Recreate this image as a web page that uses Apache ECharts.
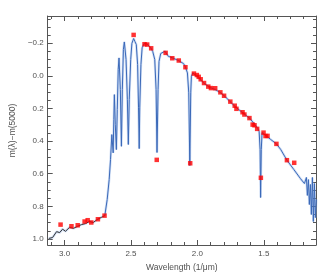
<!DOCTYPE html>
<html>
<head>
<meta charset="utf-8">
<script src="https://cdn.jsdelivr.net/npm/echarts@6/dist/echarts.min.js"></script>
<style>html,body{margin:0;padding:0;background:#fff}#c{width:329px;height:279px}</style>
</head>
<body>
<div id="c"></div>
<script>
// UV part of the spectrum (model, black line) : [wavenumber 1/um, mag]
var uvSpectrum = [
  [3.119,0.997],[3.090,0.991],[3.060,0.955],[3.037,0.961],[3.015,0.940],[2.993,0.953],
  [2.963,0.929],[2.933,0.935],[2.903,0.923],[2.873,0.912],[2.843,0.906],[2.813,0.893],
  [2.784,0.899],[2.754,0.881],[2.724,0.868],[2.697,0.857]
];
// optical / near-IR spectrum (blue line)
var optSpectrum = [
  [2.697,0.857],[2.679,0.758],[2.664,0.635],[2.654,0.513],[2.644,0.360],
  [2.634,0.472],[2.629,0.267],[2.625,0.115],
  [2.618,0.300],[2.610,0.452],[2.603,0.206],[2.596,-0.040],[2.590,-0.110],
  [2.580,0.084],[2.572,0.432],[2.565,0.084],[2.557,-0.162],[2.550,-0.208],
  [2.537,-0.100],[2.527,0.146],[2.520,0.421],[2.513,0.146],[2.502,-0.100],[2.493,-0.199],
  [2.480,-0.229],[2.470,-0.210],[2.460,-0.192],[2.450,-0.069],[2.443,0.196],[2.438,0.446],
  [2.434,0.196],[2.425,-0.069],[2.416,-0.172],[2.401,-0.198],[2.381,-0.196],[2.351,-0.172],
  [2.336,-0.149],[2.321,-0.100],[2.311,0.084],[2.304,0.470],[2.296,0.084],[2.289,-0.088],
  [2.276,-0.137],[2.261,-0.149],[2.244,-0.151],[2.219,-0.120],[2.187,-0.110],[2.142,-0.094],
  [2.104,-0.075],[2.090,-0.055],[2.075,-0.018],[2.065,0.104],[2.057,0.550],[2.050,0.104],
  [2.045,0.002],[2.035,-0.018],[1.993,0.010],[1.948,0.047],[1.903,0.072],[1.866,0.084],
  [1.828,0.102],[1.791,0.127],[1.754,0.158],[1.716,0.188],[1.679,0.213],[1.642,0.237],
  [1.604,0.262],[1.567,0.299],[1.545,0.323],[1.535,0.341],[1.528,0.452],[1.524,0.746],
  [1.519,0.452],[1.513,0.348],[1.500,0.354],[1.448,0.390],[1.405,0.417],[1.373,0.451],
  [1.326,0.517],[1.274,0.574],[1.224,0.630],[1.194,0.660],[1.187,0.672],[1.179,0.623],
  [1.172,0.733],[1.164,0.636],[1.157,0.789],[1.149,0.666],[1.142,0.850],[1.134,0.623],
  [1.127,0.893],[1.119,0.660],[1.112,0.869],[1.105,0.758]
];
// photometric points (red squares)
var pointX = [3.030,2.948,2.901,2.849,2.826,2.799,2.749,2.699,2.480,2.398,2.378,2.348,2.306,
  2.239,2.189,2.140,2.090,2.054,2.026,2.004,1.990,1.975,1.950,1.918,1.898,1.866,1.827,1.799,
  1.752,1.719,1.706,1.660,1.646,1.608,1.584,1.570,1.550,1.522,1.502,1.487,1.472,1.405,1.326,1.271];
var pointY = [0.912,0.922,0.916,0.893,0.885,0.899,0.879,0.857,-0.251,-0.194,-0.192,-0.169,0.515,
  -0.141,-0.108,-0.094,-0.053,0.536,-0.014,-0.005,0.006,0.021,0.044,0.066,0.075,0.076,0.101,0.122,
  0.158,0.183,0.202,0.223,0.237,0.259,0.299,0.303,0.325,0.625,0.348,0.369,0.368,0.417,0.517,0.533];

var xMajor = [1.5,2.0,2.5,3.0];
var xMinor = [1.2,1.3,1.4,1.6,1.7,1.8,1.9,2.1,2.2,2.3,2.4,2.6,2.7,2.8,2.9,3.1];
var yMajor = [-0.2,0.0,0.2,0.4,0.6,0.8,1.0];
var yMinor = [-0.35,-0.3,-0.25,-0.15,-0.1,-0.05,0.05,0.1,0.15,0.25,0.3,0.35,0.45,0.5,0.55,
  0.65,0.7,0.75,0.85,0.9,0.95];

var X_MIN = 1.107, X_MAX = 3.127, Y_MIN = -0.367, Y_MAX = 1.037;
var AX = '#555';
var FONT = 'Liberation Sans';

function xAx(pos, ticks, len, label, line) {
  var a = {
    type:'value', min:X_MIN, max:X_MAX, inverse:true, position:pos,
    axisLine:{show:line, onZero:false, lineStyle:{color:AX,width:1}},
    axisTick:{show:true, inside:true, length:len, customValues:ticks, lineStyle:{color:AX,width:1}},
    axisLabel:{show:label, customValues:ticks, margin:5, color:'#505050', fontSize:8, fontFamily:FONT,
      formatter:function(v){return v.toFixed(1);}},
    splitLine:{show:false}
  };
  if (label) {
    a.name = 'Wavelength (1/\u03bcm)'; a.nameLocation = 'middle'; a.nameGap = 18;
    a.nameTextStyle = {color:'#505050', fontSize:8.5, fontFamily:FONT};
  }
  return a;
}
function yAx(pos, ticks, len, label, line) {
  var a = {
    type:'value', min:Y_MIN, max:Y_MAX, inverse:true, position:pos,
    axisLine:{show:line, onZero:false, lineStyle:{color:AX,width:1}},
    axisTick:{show:true, inside:true, length:len, customValues:ticks, lineStyle:{color:AX,width:1}},
    axisLabel:{show:label, customValues:ticks, margin:4, color:'#505050', fontSize:8, fontFamily:FONT,
      formatter:function(v){return v.toFixed(1).replace('-','\u2212');}},
    splitLine:{show:false}
  };
  if (label) {
    a.name = 'm(\u03bb)\u2212m(5000)'; a.nameLocation = 'middle'; a.nameGap = 25;
    a.nameTextStyle = {color:'#505050', fontSize:8.5, fontFamily:FONT};
  }
  return a;
}

var pts = pointX.map(function(x,i){return [x, pointY[i]];});
var chart = echarts.init(document.getElementById('c'), null, {renderer:'canvas'});
chart.setOption({
  animation:false,
  grid:{left:45, right:13, top:16, bottom:34, containLabel:false},
  xAxis:[xAx('bottom',xMajor,5,true,true), xAx('bottom',xMinor,3,false,false),
         xAx('top',xMajor,5,false,true), xAx('top',xMinor,3,false,false)],
  yAxis:[yAx('left',yMajor,5,true,true), yAx('left',yMinor,3,false,false),
         yAx('right',yMajor,5,false,true), yAx('right',yMinor,3,false,false)],
  series:[
    {type:'line', data:uvSpectrum.concat(optSpectrum), showSymbol:false, symbol:'none',
     lineStyle:{color:'rgba(140,175,230,0.4)', width:2.5}, z:1},
    {type:'line', data:optSpectrum, showSymbol:false, symbol:'none',
     lineStyle:{color:'#3a68b8', width:1}, z:2},
    {type:'line', data:uvSpectrum, showSymbol:false, symbol:'none',
     lineStyle:{color:'#333', width:1}, z:3},
    {type:'scatter', data:pts, symbol:'rect', symbolSize:4.5,
     itemStyle:{color:'#ff0000'}, z:4}
  ]
});
</script>
</body>
</html>
